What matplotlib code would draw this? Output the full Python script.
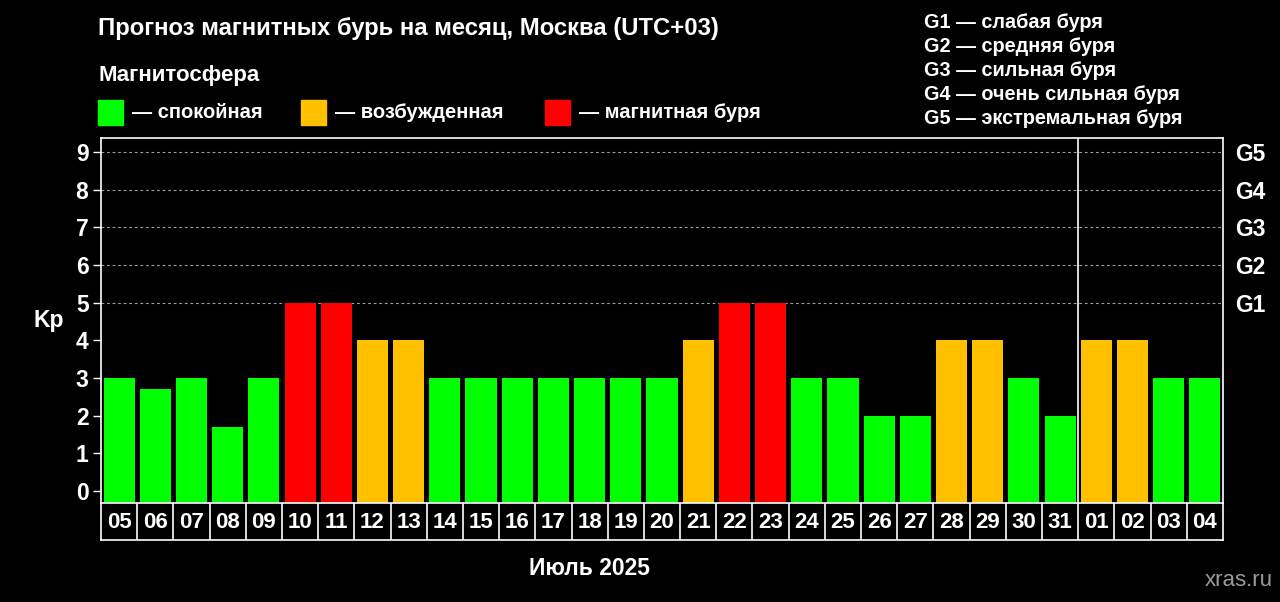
import matplotlib.pyplot as plt
from matplotlib.patches import Rectangle
import numpy as np

#------------------------------------------------------------------------------

days = ['05', '06', '07', '08', '09', '10', '11', '12', '13', '14', '15',
        '16', '17', '18', '19', '20', '21', '22', '23', '24', '25', '26',
        '27', '28', '29', '30', '31', '01', '02', '03', '04']
kp = [3, 2.7, 3, 1.7, 3, 5, 5, 4, 4, 3, 3,
      3, 3, 3, 3, 3, 4, 5, 5, 3, 3, 2,
      2, 4, 4, 3, 2, 4, 4, 3, 3]
july_days = 27  # 05..31
g_levels = ['G1', 'G2', 'G3', 'G4', 'G5']
g_legend = ['G1 — слабая буря', 'G2 — средняя буря', 'G3 — сильная буря',
            'G4 — очень сильная буря', 'G5 — экстремальная буря']
state_names = ['— спокойная', '— возбужденная', '— магнитная буря']

#------------------------------------------------------------------------------

green = '#00FF00'
orange = '#FFC000'
red = '#FF0000'
state_colors = [green, orange, red]

def kp_color(v):
    if v >= 5:
        return red
    if v >= 4:
        return orange
    return green

plt.rcParams['font.family'] = ['Liberation Sans', 'DejaVu Sans']
plt.rcParams['font.weight'] = 'bold'

fig = plt.figure(figsize=(12.8, 6.02), dpi=100, facecolor='black')

W, H = 1280, 602
left, right, top, bottom = 101, 1223, 138, 503
ax = fig.add_axes([left / W, 1 - bottom / H, (right - left) / W, (bottom - top) / H])
ax.set_facecolor('black')

ymin, ymax = -0.32, 9.37
x = np.arange(len(days))
vals = np.array(kp)
ax.bar(x, vals - ymin, bottom=ymin, width=0.86,
       color=[kp_color(v) for v in kp], zorder=3)

ax.set_xlim(-0.5, len(days) - 0.5)
ax.set_ylim(ymin, ymax)
for lvl in range(5, 10):
    ax.axhline(lvl, color='#a0a0a0', lw=0.8, ls=(0, (2.5, 2.5)), zorder=1)
ax.axvline(july_days - 0.5, color='white', lw=1.2, zorder=4)

ax.set_xticks([])
ax.set_yticks(range(10))
ax.tick_params(axis='y', colors='white', labelsize=16.5, length=6, width=1,
               left=True, right=True, labelleft=True, pad=3)
for lab in ax.get_yticklabels():
    lab.set_fontweight('bold')
for s in ax.spines.values():
    s.set_color('white')
    s.set_linewidth(1.2)
ax.spines['bottom'].set_visible(False)

axr = ax.twinx()
axr.set_ylim(ymin, ymax)
axr.set_yticks(range(5, 10))
axr.set_yticklabels(g_levels, fontsize=16.5, fontweight='bold', color='white')
axr.tick_params(axis='y', colors='white', length=0, pad=9)
for s in axr.spines.values():
    s.set_visible(False)

ax.text(-0.047, 0.5, 'Kp', transform=ax.transAxes, color='white',
        fontsize=16.5, fontweight='bold', ha='center', va='center')

# day cells
cell_h = 37
axd = fig.add_axes([left / W, 1 - (bottom + cell_h) / H, (right - left) / W, cell_h / H])
axd.set_facecolor('black')
axd.set_xlim(-0.5, len(days) - 0.5)
axd.set_ylim(0, 1)
axd.set_xticks([])
axd.set_yticks([])
for s in axd.spines.values():
    s.set_color('white')
    s.set_linewidth(1.2)
for i in range(1, len(days)):
    axd.axvline(i - 0.5, color='white', lw=1.2)
for i, d in enumerate(days):
    axd.text(i, 0.47, d, color='white', fontsize=16, fontweight='bold',
             ha='center', va='center')

july_center = (july_days - 1) / 2
axd.text(july_center, -0.76, 'Июль 2025', color='white', fontsize=16.5,
         fontweight='bold', ha='center', va='center')

# titles & legends
fig.text(98 / W, 1 - 29 / H, 'Прогноз магнитных бурь на месяц, Москва (UTC+03)',
         color='white', fontsize=17.2, fontweight='bold', va='center')
fig.text(98 / W, 1 - 76 / H, 'Магнитосфера', color='white', fontsize=16,
         fontweight='bold', va='center')
sq_x = [98, 301, 545]
for sx, c, name in zip(sq_x, state_colors, state_names):
    fig.patches.append(Rectangle((sx / W, 1 - 125 / H), 25 / W, 25 / H,
                                 transform=fig.transFigure, color=c))
    fig.text((sx + 34) / W, 1 - 112 / H, name, color='white', fontsize=14.5,
             fontweight='bold', va='center')

for k, txt in enumerate(g_legend):
    fig.text(924 / W, 1 - (22 + 24 * k) / H, txt, color='white', fontsize=14.3,
             fontweight='bold', va='center')

fig.text(1273 / W, 1 - 580 / H, 'xras.ru', color='#9a9a9a', fontsize=16,
         fontweight='normal', ha='right', va='center')

fig.savefig('out.png', dpi=100, facecolor='black')
